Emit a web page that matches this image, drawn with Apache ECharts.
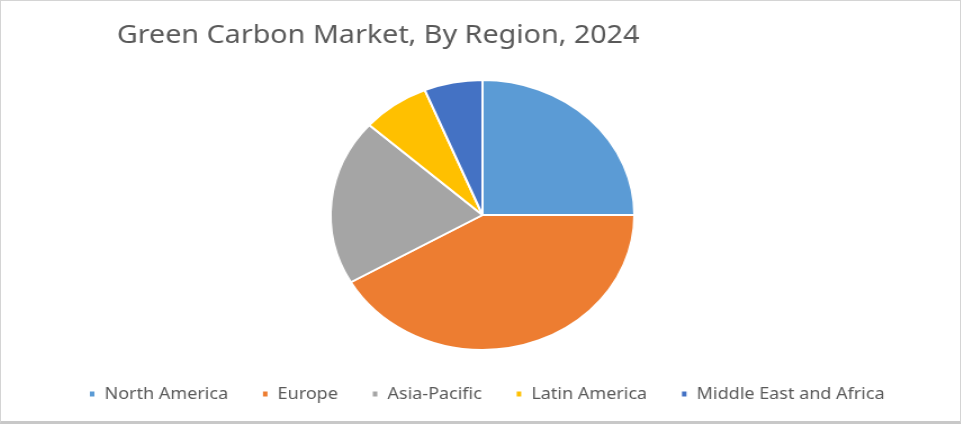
<!DOCTYPE html>
<html>
<head>
<meta charset="utf-8">
<script src="https://cdn.jsdelivr.net/npm/echarts@6/dist/echarts.min.js"></script>
<style>
html,body{margin:0;padding:0;background:#fff;overflow:hidden;}
#wrap{position:absolute;left:0;top:0;width:961px;height:424px;border:1px solid #d4d4d4;border-bottom:3px solid #c8c8c8;box-sizing:border-box;overflow:hidden;}
#chart{position:absolute;left:0;top:0;width:854px;height:420px;transform:scaleX(1.125);transform-origin:0 0;}
</style>
</head>
<body>
<div id="wrap"><div id="chart"></div></div>
<script>
const categories = ['North America', 'Europe', 'Asia-Pacific', 'Latin America', 'Middle East and Africa'];
const values = [25, 41.7, 19.9, 7.2, 6.2];
const colors = ['#5B9BD5', '#ED7D31', '#A5A5A5', '#FFC000', '#4472C4'];
const titleText = 'Green Carbon Market, By Region, 2024';

const chart = echarts.init(document.getElementById('chart'), null, {renderer: 'canvas'});
chart.setOption({
  animation: false,
  color: colors,
  title: {
    text: titleText,
    left: 98,
    top: 17,
    textStyle: {fontFamily: 'Noto Sans', fontSize: 25.5, fontWeight: 'normal', color: '#595959'}
  },
  legend: {
    data: categories,
    left: 72,
    top: 380,
    itemWidth: 6,
    itemHeight: 7,
    itemGap: 29,
    icon: 'rect',
    textStyle: {fontFamily: 'Noto Sans', fontSize: 16, color: '#595959', padding: [0, 0, 0, 3]}
  },
  series: [{
    type: 'pie',
    center: [428, 214],
    radius: 135,
    startAngle: 90,
    clockwise: true,
    label: {show: false},
    labelLine: {show: false},
    itemStyle: {borderColor: '#fff', borderWidth: 2},
    emphasis: {disabled: true},
    data: categories.map((c, i) => ({name: c, value: values[i]}))
  }]
});
</script>
</body>
</html>
